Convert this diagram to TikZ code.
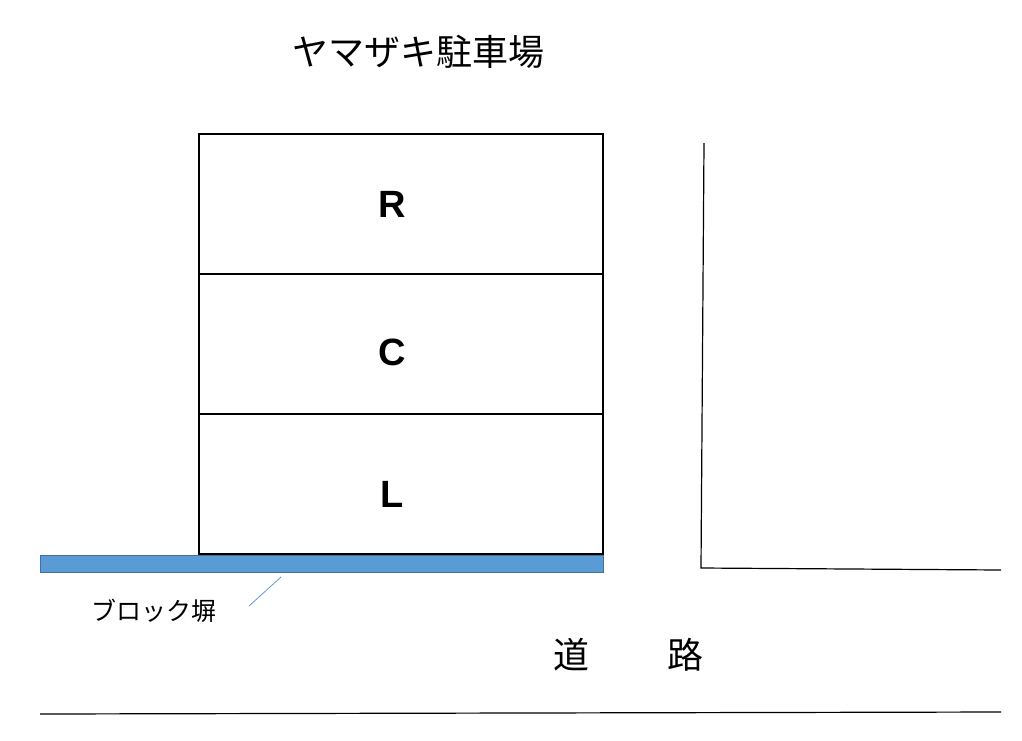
\documentclass[tikz,border=0pt]{standalone}
\usepackage{fontspec}
\setsansfont{Liberation Sans}
\newfontfamily\cjk{Noto Sans CJK JP}
\begin{document}
\begin{tikzpicture}[x=1pt,y=-1pt,
    bay/.style={draw,line width=1.2pt},
    baylabel/.style={font=\sffamily\bfseries\fontsize{38}{40}\selectfont},
    jp/.style={font=\cjk\fontsize{#1}{#1}\selectfont}]
    \useasboundingbox (0,0) rectangle (1022,740);
    \node[jp=36] (title) at (418,52) {ヤマザキ駐車場};
    % parking bays
    \draw[bay] (199,134) rectangle (603,274);
    \draw[bay] (199,274) rectangle (603,414);
    \draw[bay] (199,414) rectangle (603,554);
    \node[baylabel] (r) at (392,204) {R};
    \node[baylabel] (c) at (392,352) {C};
    \node[baylabel] (l) at (392,494) {L};
    % block wall
    \definecolor{wallblue}{RGB}{91,155,213}
    \definecolor{walledge}{RGB}{65,113,156}
    \draw[fill=wallblue,draw=walledge,line width=1pt] (40,555) rectangle (603,572);
    \coordinate (wallpt) at (281,577);
    \node[jp=25,anchor=center] (wall) at (154,611) {ブロック塀};
    \draw[wallblue,line width=0.8pt] (249,606) -- (wallpt);
    % road edges
    \draw[line width=1.2pt] (704,143) -- (701,568) -- (1001,570);
    \draw[line width=1.2pt] (40,714) -- (1001,712);
    \node[jp=36] (road1) at (571,655) {道};
    \node[jp=36] (road2) at (685,655) {路};
\end{tikzpicture}
\end{document}
